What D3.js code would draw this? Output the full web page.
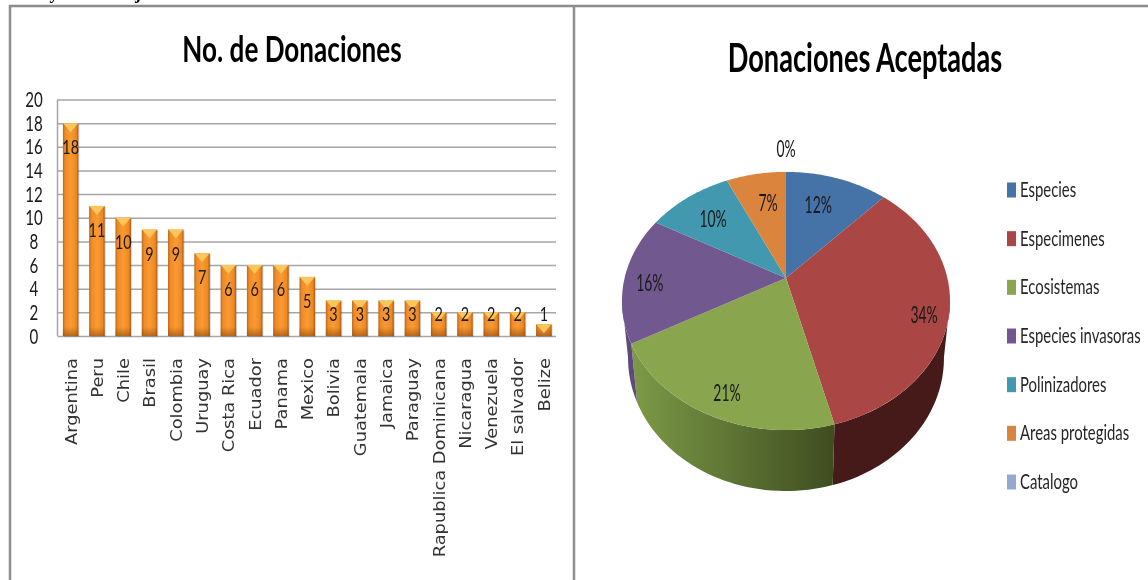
<!DOCTYPE html>
<html>
<head>
<meta charset="utf-8">
<script src="https://d3js.org/d3.v7.min.js"></script>
<style>
  html, body { margin: 0; padding: 0; background: #fff; overflow: hidden; }
  svg { display: block; filter: blur(0.35px); }
  text { font-family: Lato, "Open Sans", sans-serif; fill: #1a1a1a; }
</style>
</head>
<body>
<div id="chart"></div>
<script>
// bar chart data
var countries = ["Argentina", "Peru", "Chile", "Brasil", "Colombia", "Uruguay", "Costa Rica", "Ecuador", "Panama", "Mexico",
    "Bolivia", "Guatemala", "Jamaica", "Paraguay", "Rapublica Dominicana", "Nicaragua", "Venezuela", "El salvador", "Belize"];
var donations = [18, 11, 10, 9, 9, 7, 6, 6, 6, 5, 3, 3, 3, 3, 2, 2, 2, 2, 1];
var yTicks = [0, 2, 4, 6, 8, 10, 12, 14, 16, 18, 20];

// pie chart data
var pieCategories = ["Especies", "Especimenes", "Ecosistemas", "Especies invasoras", "Polinizadores", "Areas protegidas", "Catalogo"];
var pieValues = [12, 34, 21, 16, 10, 7, 0];
var pieColors = ["#4572a7", "#aa4643", "#89a54e", "#71588f", "#4198af", "#db843d", "#93a9cf"];
var wallColors = ["#345680", "#451a18", "url(#wallGreen)", "#5e4a7c", "#30788a", "#a8632c", "#7082a0"];
var labelRadius = [0.72, 0.85, 0.8, 0.85, 0.7, 0.7, 1.265];
var labelNudge = [[-6, 1], [0, 9], [0, 9], [1, 4], [-2, -1], [4, 0], [0, -1]];

var svg = d3.select("#chart").append("svg")
    .attr("width", 1148)
    .attr("height", 580);

var defs = svg.append("defs");

// horizontal gradient of the bars
var barGrad = defs.append("linearGradient").attr("id", "barFill");
barGrad.append("stop").attr("offset", "0%").attr("stop-color", "#b5651d");
barGrad.append("stop").attr("offset", "14%").attr("stop-color", "#f08a24");
barGrad.append("stop").attr("offset", "50%").attr("stop-color", "#fb9a33");
barGrad.append("stop").attr("offset", "86%").attr("stop-color", "#ee8822");
barGrad.append("stop").attr("offset", "100%").attr("stop-color", "#a85c1a");

// darkening towards the foot of each bar
var footGrad = defs.append("linearGradient").attr("id", "barFoot")
    .attr("x1", 0).attr("x2", 0).attr("y1", 0).attr("y2", 1);
footGrad.append("stop").attr("offset", "0%").attr("stop-color", "#8a4a10").attr("stop-opacity", 0);
footGrad.append("stop").attr("offset", "100%").attr("stop-color", "#8a4a10").attr("stop-opacity", 0.6);

// gradient of the green wall
var wallGrad = defs.append("linearGradient").attr("id", "wallGreen")
    .attr("gradientUnits", "userSpaceOnUse")
    .attr("x1", 632).attr("x2", 834).attr("y1", 0).attr("y2", 0);
wallGrad.append("stop").attr("offset", "0%").attr("stop-color", "#7c9a47");
wallGrad.append("stop").attr("offset", "100%").attr("stop-color", "#3f4d20");

// panel frames
var frameColor = "#8c8c8c";
svg.append("path")
    .attr("d", "M10,580V6H1148M574,6V580")
    .attr("fill", "none")
    .attr("stroke", frameColor)
    .attr("stroke-width", 2.5);

// descenders of the line cut off above the picture
svg.selectAll(".cut")
    .data([["y", 54], ["j", 138]])
    .enter()
    .append("text")
    .attr("x", d => d[1])
    .attr("y", -1)
    .attr("text-anchor", "middle")
    .style("font-family", "'Liberation Serif', serif")
    .style("font-weight", "bold")
    .style("font-size", "18px")
    .style("fill", "#000")
    .text(d => d[0]);

// text squeezed or stretched along its own direction
function fitText(sel, x, y, sx, rotate) {
    sel.attr("transform", "translate(" + x + "," + y + ")" + (rotate ? " rotate(" + rotate + ")" : "") + " scale(" + sx + ",1)");
}

function title(label, x, y, size, sx) {
    svg.append("text")
        .attr("text-anchor", "middle")
        .style("font-size", size + "px")
        .style("font-weight", "bold")
        .style("fill", "#000")
        .text(label)
        .call(fitText, x, y, sx);
}
title("No. de Donaciones", 292, 62, 36, 0.725);
title("Donaciones Aceptadas", 865, 72, 40, 0.68);

// bar chart
var x = d3.scaleBand().domain(countries).range([57.5, 557]);
var y = d3.scaleLinear().domain([0, 20]).range([336, 99.5]);
var barWidth = 15.5;

var gridG = svg.append("g")
    .attr("transform", "translate(57.5,0)")
    .call(d3.axisLeft(y).tickValues(yTicks).tickSize(-498.5).tickFormat(""));
gridG.select(".domain").attr("stroke", "#a6a6a6").attr("stroke-width", 1.5).attr("d", "M0,99.5V336");
gridG.selectAll(".tick line").attr("stroke", "#a6a6a6").attr("stroke-width", 1.5);

svg.selectAll(".ytick")
    .data(yTicks)
    .enter()
    .append("text")
    .attr("class", "ytick")
    .attr("dy", "0.36em")
    .attr("text-anchor", "middle")
    .style("font-size", "21px")
    .text(d => d)
    .each(function(d) { d3.select(this).call(fitText, 34, y(d), 0.72); });

var bars = svg.selectAll(".bar")
    .data(donations)
    .enter()
    .append("g")
    .attr("class", "bar")
    .attr("transform", (d, i) => "translate(" + (x(countries[i]) + (x.bandwidth() - barWidth) / 2) + "," + y(d) + ")");

bars.append("rect")
    .attr("x", 1).attr("y", 1)
    .attr("width", barWidth).attr("height", d => y(0) - y(d))
    .attr("fill", "#000").attr("opacity", 0.15);
bars.append("rect")
    .attr("width", barWidth).attr("height", d => y(0) - y(d))
    .attr("fill", "url(#barFill)");
bars.append("rect")
    .attr("y", d => y(0) - y(d) - 9)
    .attr("width", barWidth).attr("height", 9)
    .attr("fill", "url(#barFoot)");
bars.append("path")
    .attr("d", "M0,0H" + barWidth + "L" + (barWidth - 2) + ",2L" + (barWidth / 2) + ",9L2,2Z")
    .attr("fill", "#fcc65a");

svg.selectAll(".value")
    .data(donations)
    .enter()
    .append("text")
    .attr("class", "value")
    .attr("dy", "0.36em")
    .attr("text-anchor", "middle")
    .style("font-size", "20px")
    .text(d => d)
    .each(function(d, i) {
        var cx = x(countries[i]) + x.bandwidth() / 2;
        d3.select(this).call(fitText, cx, Math.min(y(d) + 24, y(1.9)), 0.72);
    });

svg.selectAll(".country")
    .data(countries)
    .enter()
    .append("text")
    .attr("class", "country")
    .attr("text-anchor", "end")
    .attr("dy", "0.36em")
    .style("font-family", "'DejaVu Sans', sans-serif")
    .style("font-size", "15px")
    .style("fill", "#333")
    .text(d => d)
    .each(function(d) {
        d3.select(this).call(fitText, x(d) + x.bandwidth() / 2 + 0.5, 358, 1.19, -90);
    });

// pie chart: a flat disc seen in perspective
var pieCx = 786, pieCy = 278, pieA = 161.4, pieB = 125, pieP = 0.178;

function project(a, r) {
    var u = r * Math.sin(a), v = -r * Math.cos(a), w = 1 - pieP * v;
    return [pieCx + pieA * u / w, pieCy + pieB * v / w];
}
// same rim point on the lower edge of the wall
function projectBottom(a) {
    var p = project(a, 1);
    return [pieCx + (p[0] - pieCx) * 0.963, 358 + (p[1] - 301) * 1.031];
}
function arcAngles(a0, a1) {
    return d3.range(0, 41).map(i => a0 + (a1 - a0) * i / 40);
}

var pie = d3.pie().value(d => d).sort(null);
var arcs = pie(pieValues);
var line = d3.line();
var wallStart = 100 * Math.PI / 180, wallEnd = 260 * Math.PI / 180;

// walls first, the top faces go over them
svg.selectAll(".wall")
    .data(arcs)
    .enter()
    .append("path")
    .attr("class", "wall")
    .attr("fill", (d, i) => wallColors[i])
    .attr("d", d => {
        var a0 = Math.max(d.startAngle, wallStart), a1 = Math.min(d.endAngle, wallEnd);
        if (a1 <= a0) return null;
        var angles = arcAngles(a0, a1);
        return line(angles.map(a => project(a, 1)).concat(angles.slice().reverse().map(projectBottom))) + "Z";
    });

svg.selectAll(".slice")
    .data(arcs)
    .enter()
    .append("path")
    .attr("class", "slice")
    .attr("fill", (d, i) => pieColors[i])
    .attr("d", d => line([[pieCx, pieCy]].concat(arcAngles(d.startAngle, d.endAngle).map(a => project(a, 1)))) + "Z");

svg.selectAll(".pct")
    .data(arcs)
    .enter()
    .append("text")
    .attr("class", "pct")
    .attr("dy", "0.36em")
    .attr("text-anchor", "middle")
    .style("font-size", "24px")
    .text(d => d.data + "%")
    .each(function(d, i) {
        var p = project((d.startAngle + d.endAngle) / 2, labelRadius[i]);
        d3.select(this).call(fitText, p[0] + labelNudge[i][0], p[1] + labelNudge[i][1], 0.58);
    });

// legend
var legendY = d3.scalePoint().domain(pieCategories).range([190, 482]);

svg.selectAll(".swatch")
    .data(pieCategories)
    .enter()
    .append("rect")
    .attr("class", "swatch")
    .attr("x", 1007)
    .attr("y", d => legendY(d) - 7.5)
    .attr("width", 9)
    .attr("height", 15)
    .attr("fill", (d, i) => pieColors[i]);

svg.selectAll(".legend")
    .data(pieCategories)
    .enter()
    .append("text")
    .attr("class", "legend")
    .attr("dy", "0.34em")
    .style("font-size", "21px")
    .style("fill", "#262626")
    .text(d => d)
    .each(function(d) { d3.select(this).call(fitText, 1020, legendY(d), 0.71); });
</script>
</body>
</html>
